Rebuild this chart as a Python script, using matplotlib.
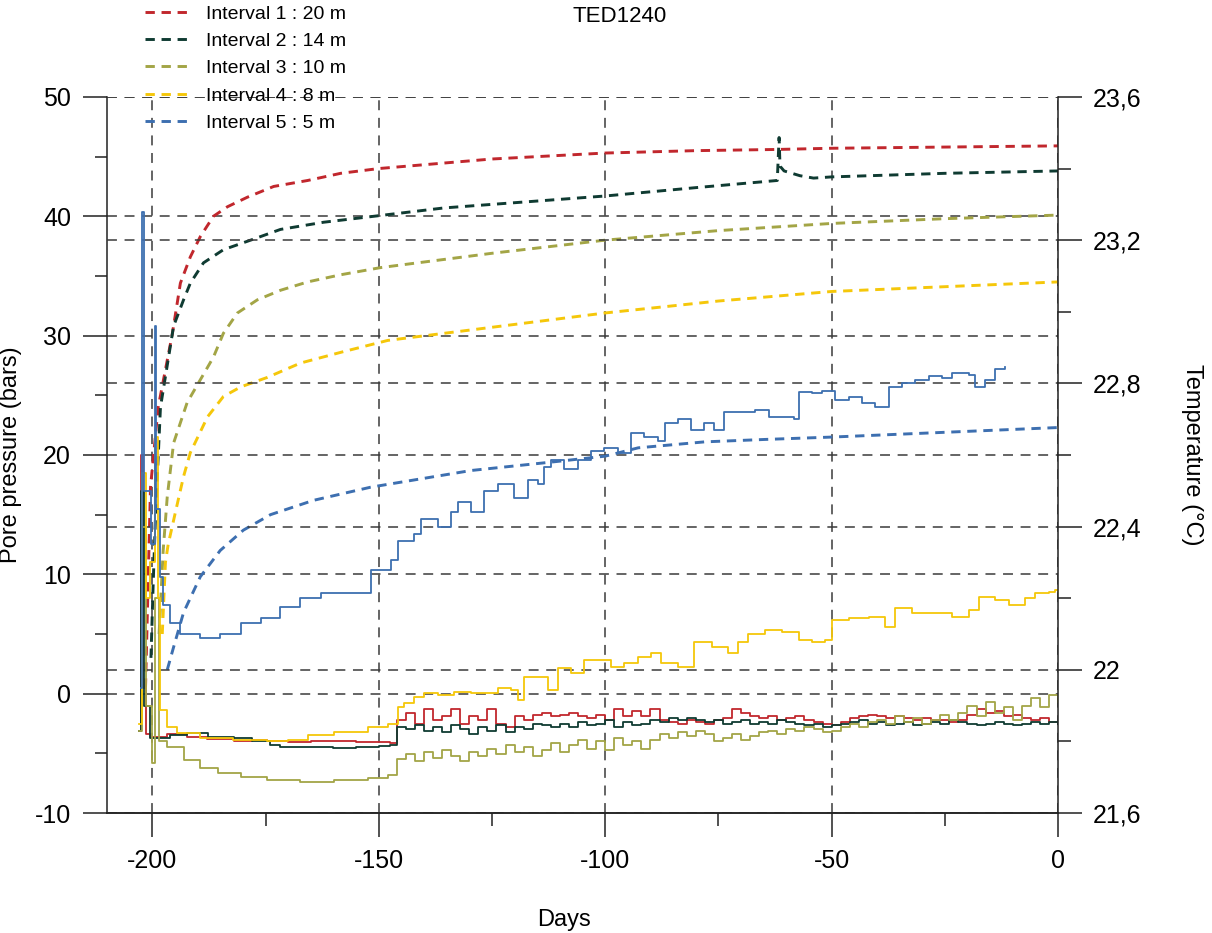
import matplotlib
matplotlib.use("Agg")
import matplotlib.pyplot as plt
from matplotlib.ticker import MultipleLocator, FuncFormatter

plt.rcParams['font.family'] = ['Liberation Sans', 'DejaVu Sans']
plt.rcParams['axes.unicode_minus'] = False

# pore pressure (bars), dashed lines
labels = ["Interval 1 : 20 m", "Interval 2 : 14 m", "Interval 3 : 10 m",
          "Interval 4 : 8 m", "Interval 5 : 5 m"]
colors = ["#c1272d", "#0f3b32", "#a3a546", "#f5c70a", "#3d6fb0"]

p1_days = [-201.5, -200.4, -198.7, -195.6, -193.8, -191.6, -189.4, -186.5, -183.4, -179,
           -173.2, -165.7, -158.4, -150, -125, -100, -80, -62, -50, -25, 0]
p1_vals = [0.5, 17.3, 24.0, 30.1, 34.4, 36.6, 38.3, 40.0, 40.8, 41.6,
           42.5, 43.0, 43.6, 44.0, 44.8, 45.3, 45.5, 45.6, 45.7, 45.8, 45.9]

p2_days = [-200.3, -199.8, -199.3, -198.2, -195.3, -193.1, -191.6, -188.7, -184.3, -178.3,
           -171.7, -162.2, -151.1, -135.6, -100, -80, -62, -61.6, -61.4, -60.5,
           -57, -54, -50, -25, 0]
p2_vals = [3, 9.3, 14.8, 24.0, 30.8, 33.0, 34.4, 36.1, 37.2, 38.0,
           38.9, 39.5, 40.0, 40.7, 41.7, 42.4, 43.0, 46.6, 44.2, 43.8,
           43.4, 43.2, 43.3, 43.6, 43.8]

p3_days = [-198.5, -197.6, -196.7, -195.3, -192.3, -189.4, -186.5, -184.3, -181.2, -176.8,
           -171.7, -165.7, -158.4, -149.6, -125, -100, -75, -50, -25, 0]
p3_vals = [5, 12, 16.5, 21.0, 24.4, 26.3, 28.2, 30.2, 31.9, 33.0,
           33.8, 34.5, 35.1, 35.7, 36.9, 38.0, 38.8, 39.4, 39.8, 40.1]

p4_days = [-197.8, -197.1, -196.5, -194.9, -193.1, -191.6, -187.8, -184.3, -180.5, -174.6,
           -167.3, -158.4, -148, -125, -100, -75, -50, -25, 0]
p4_vals = [5, 11, 12.5, 15.2, 18.2, 20.2, 23.2, 24.9, 25.7, 26.5,
           27.7, 28.6, 29.6, 30.7, 31.9, 32.9, 33.7, 34.1, 34.5]

p5_days = [-196.7, -195.3, -193.1, -189.4, -185, -179.9, -173.9, -164.4, -151.8, -129.6,
           -112, -100, -92.7, -78, -64.8, -50, -25, 0]
p5_vals = [2.0, 3.9, 6.8, 9.8, 12.0, 13.7, 15.0, 16.2, 17.3, 18.7,
           19.4, 19.9, 20.6, 21.1, 21.3, 21.5, 21.9, 22.3]

# temperature (deg C), solid lines
# start-up transient, then readings every 2 days from day -146
late_days = list(range(-146, 1, 2))

t1_early_days = [-203, -202.5, -202.0, -201.3, -200.4, -196.7, -192.3, -188, -182, -178,
                 -174.6, -170, -165, -160, -155, -150, -147.5]
t1_early = [21.83, 22.6, 21.95, 21.82, 21.812, 21.82, 21.812, 21.806, 21.80, 21.803,
            21.80, 21.798, 21.80, 21.80, 21.797, 21.798, 21.796]
t1_late = [21.86, 21.88, 21.85, 21.89, 21.86, 21.87, 21.89, 21.85, 21.87, 21.86,
           21.89, 21.85, 21.84, 21.87, 21.86, 21.875, 21.88, 21.87, 21.875, 21.88,
           21.87, 21.865, 21.875, 21.86, 21.89, 21.87, 21.885, 21.87, 21.89, 21.86,
           21.855, 21.85, 21.86, 21.855, 21.85, 21.86, 21.865, 21.89, 21.88, 21.87,
           21.865, 21.87, 21.86, 21.865, 21.87, 21.86, 21.855, 21.85, 21.845, 21.855,
           21.865, 21.87, 21.875, 21.87, 21.865, 21.87, 21.865, 21.86, 21.865, 21.86,
           21.86, 21.855, 21.86, 21.875, 21.89, 21.88, 21.885, 21.87, 21.875, 21.865,
           21.86, 21.865, 21.855, 21.855]

t2_early_days = [-203, -202.4, -201.8, -200.4, -196, -192.3, -187.8, -182, -178, -174,
                 -171.7, -166, -160, -155, -150, -147.5]
t2_early = [21.83, 22.5, 21.9, 21.81, 21.818, 21.823, 21.812, 21.81, 21.80, 21.79,
            21.784, 21.783, 21.782, 21.785, 21.788, 21.79]
t2_late = [21.84, 21.835, 21.845, 21.83, 21.84, 21.825, 21.845, 21.835, 21.82, 21.84,
           21.83, 21.845, 21.825, 21.84, 21.835, 21.85, 21.845, 21.84, 21.85, 21.84,
           21.855, 21.845, 21.85, 21.86, 21.84, 21.855, 21.845, 21.85, 21.86, 21.855,
           21.865, 21.86, 21.865, 21.86, 21.855, 21.86, 21.85, 21.855, 21.86, 21.85,
           21.855, 21.85, 21.86, 21.855, 21.85, 21.845, 21.85, 21.84, 21.845, 21.85,
           21.855, 21.86, 21.85, 21.855, 21.845, 21.85, 21.855, 21.845, 21.85, 21.855,
           21.85, 21.86, 21.855, 21.85, 21.845, 21.85, 21.855, 21.85, 21.845, 21.85,
           21.855, 21.85, 21.855, 21.85]

t3_early_days = [-203, -202.2, -201.5, -200.0, -199.3, -198.5, -196.7, -193.1, -189.4, -185.6,
                 -180.5, -174.6, -167.3, -159.9, -152.4, -148]
t3_early = [21.83, 22.4, 21.9, 21.74, 22.2, 21.8, 21.784, 21.748, 21.726, 21.712,
            21.70, 21.692, 21.687, 21.692, 21.698, 21.706]
t3_late = [21.75, 21.765, 21.745, 21.77, 21.755, 21.775, 21.76, 21.745, 21.77, 21.76,
           21.78, 21.765, 21.79, 21.77, 21.785, 21.76, 21.775, 21.795, 21.77, 21.79,
           21.805, 21.78, 21.8, 21.775, 21.81, 21.79, 21.8, 21.78, 21.805, 21.82,
           21.81, 21.825, 21.815, 21.83, 21.82, 21.8, 21.81, 21.82, 21.805, 21.815,
           21.825, 21.83, 21.82, 21.835, 21.83, 21.84, 21.835, 21.825, 21.83, 21.84,
           21.85, 21.84, 21.855, 21.86, 21.85, 21.87, 21.855, 21.865, 21.85, 21.86,
           21.875, 21.86, 21.88, 21.9, 21.87, 21.91, 21.88, 21.895, 21.86, 21.9,
           21.92, 21.895, 21.93, 21.91]

t4_days = [-203, -202.3, -201.5, -200.5, -199.3, -198.8, -198.2, -196.7, -194.5, -189.4,
           -182.1, -174.6, -170.1, -165.7, -159.9, -152.4, -148, -145.8, -144.5, -142.3,
           -140, -137, -133.4, -129.6, -125.9, -123.7, -120.8, -119.2, -117.9, -114.9,
           -112.6, -110.4, -107.5, -104.6, -101.5, -98.7, -95.8, -92.7, -89.8, -87.6,
           -83.9, -80.3, -76.5, -72.8, -70.6, -68.4, -64.8, -61, -57.3, -54.4,
           -51.5, -50, -46.2, -41.8, -38.3, -36, -32.3, -27.2, -23.5, -19.7,
           -17.5, -13.9, -10.8, -7.3, -5.1, -2, -0.7, 0]
t4_vals = [21.85, 22.55, 22.2, 22.3, 22.65, 22.2, 21.888, 21.84, 21.823, 21.81,
           21.804, 21.80, 21.804, 21.818, 21.826, 21.84, 21.85, 21.896, 21.907, 21.924,
           21.935, 21.93, 21.938, 21.935, 21.935, 21.95, 21.944, 21.916, 21.98, 21.98,
           21.944, 22.005, 21.99, 22.027, 22.027, 22.008, 22.02, 22.036, 22.047, 22.02,
           22.008, 22.078, 22.064, 22.047, 22.078, 22.10, 22.11, 22.105, 22.083, 22.078,
           22.083, 22.14, 22.145, 22.147, 22.12, 22.173, 22.159, 22.159, 22.147, 22.167,
           22.203, 22.195, 22.181, 22.20, 22.215, 22.217, 22.223, 22.22]

t5_days = [-202.6, -202.2, -201.9, -200.3, -199.4, -199.1, -198.2, -197.6, -196, -193.8,
           -189.4, -185, -180.5, -176, -171.7, -167.3, -162.8, -151.8, -147.3, -145.8,
           -142.3, -140.7, -137, -134, -132.5, -129.6, -126.7, -123.7, -120.1, -117.1,
           -114.9, -113.5, -112, -109.1, -106, -103.1, -100.2, -97.1, -94.2, -91.4,
           -88.3, -86.9, -83.9, -81, -78.1, -75.9, -73.7, -69.9, -67, -63.9,
           -61, -58.2, -57.3, -54.4, -52.2, -49.3, -46.2, -43.4, -40.5, -37.4,
           -34.5, -31.6, -28.5, -25.7, -23.5, -19.7, -18.4, -16.2, -13.9, -11.7]
t5_vals = [21.95, 23.28, 22.5, 22.35, 22.96, 22.45, 22.26, 22.18, 22.13, 22.10,
           22.09, 22.10, 22.13, 22.145, 22.175, 22.20, 22.215, 22.28, 22.307, 22.36,
           22.38, 22.42, 22.40, 22.44, 22.47, 22.44, 22.50, 22.52, 22.48, 22.53,
           22.52, 22.566, 22.586, 22.56, 22.586, 22.61, 22.62, 22.605, 22.66, 22.65,
           22.64, 22.69, 22.70, 22.67, 22.69, 22.67, 22.72, 22.72, 22.726, 22.706,
           22.706, 22.70, 22.776, 22.773, 22.78, 22.754, 22.762, 22.745, 22.734, 22.79,
           22.80, 22.81, 22.82, 22.815, 22.83, 22.824, 22.79, 22.81, 22.84, 22.846]

pressure = [(p1_days, p1_vals), (p2_days, p2_vals), (p3_days, p3_vals),
            (p4_days, p4_vals), (p5_days, p5_vals)]
temperature = [(t1_early_days + late_days, t1_early + t1_late),
               (t2_early_days + late_days, t2_early + t2_late),
               (t3_early_days + late_days, t3_early + t3_late),
               (t4_days, t4_vals), (t5_days, t5_vals)]


def comma_fmt(v, pos):
    return "{:g}".format(round(v, 2)).replace(".", ",")


def main():
    fig = plt.figure(figsize=(12.12, 9.33), dpi=100)
    ax1 = fig.add_axes([0.0883, 0.1286, 0.7847, 0.7675])
    ax2 = ax1.twinx()

    grid_style = dict(color="#3a3a3a", linewidth=1.1, linestyle=(0, (6.5, 5)))

    # temperature lines on the right axis
    for (d, v), c in zip(temperature, colors):
        ax2.plot(d, v, color=c, linewidth=1.3, drawstyle="steps-post")

    # pore pressure on the left axis
    handles = []
    for (d, v), c, lab in zip(pressure, colors, labels):
        h, = ax1.plot(d, v, color=c, linewidth=2.1, linestyle=(0, (3.2, 2.3)), label=lab)
        handles.append(h)

    ax1.set_xlim(-210, 0)
    ax1.set_ylim(-10, 50)
    ax2.set_ylim(21.6, 23.6)

    ax1.xaxis.set_major_locator(MultipleLocator(50))
    ax1.xaxis.set_minor_locator(MultipleLocator(25))
    ax1.yaxis.set_major_locator(MultipleLocator(10))
    ax1.yaxis.set_minor_locator(MultipleLocator(5))
    ax2.yaxis.set_major_locator(MultipleLocator(0.4))
    ax2.yaxis.set_minor_locator(MultipleLocator(0.2))
    ax2.yaxis.set_major_formatter(FuncFormatter(comma_fmt))

    ax1.grid(True, which="major", **grid_style)
    ax2.grid(True, which="major", axis="y", **grid_style)

    for ax in (ax1, ax2):
        ax.spines["top"].set_visible(False)
        for s in ax.spines.values():
            s.set_linewidth(1.1)
            s.set_color("#222222")
    ax1.spines["right"].set_visible(False)
    ax2.spines["left"].set_visible(False)

    ax1.tick_params(axis="both", which="major", direction="out", length=17, width=1.1,
                    labelsize=18, pad=9, color="#222222")
    ax1.tick_params(axis="both", which="minor", direction="out", length=9, width=1.1,
                    color="#222222")
    ax2.tick_params(axis="y", which="major", direction="out", length=17, width=1.1,
                    labelsize=18, pad=8, color="#222222")
    ax2.tick_params(axis="y", which="minor", direction="out", length=9, width=1.1,
                    color="#222222")

    ax1.set_ylabel("Pore pressure (bars)", fontsize=17)
    ax1.yaxis.set_label_coords(-0.089, 0.5)
    ax1.set_xlabel("Days", fontsize=17)
    ax1.xaxis.set_label_coords(0.48, -0.134)
    ax2.set_ylabel("Temperature (°C)", fontsize=17, rotation=270)
    ax2.yaxis.set_label_coords(1.152, 0.5)

    fig.text(620 / 1212, 1 - 16 / 933, "TED1240", fontsize=16, ha="center", va="center")

    fig.legend(handles=handles, loc="upper left", bbox_to_anchor=(145 / 1212, 1 - 5 / 933),
               frameon=False, fontsize=14, handlelength=2.4, handletextpad=0.75,
               labelspacing=0.5, borderpad=0, borderaxespad=0)

    fig.savefig("out.png", dpi=100)


if __name__ == "__main__":
    main()
